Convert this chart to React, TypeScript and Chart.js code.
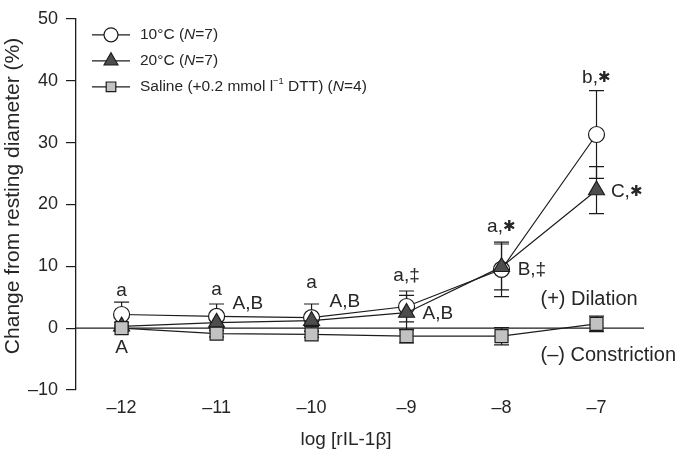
import React, { useEffect, useRef } from 'react';
import { Chart, registerables } from 'chart.js';

Chart.register(...registerables);

// ---- data ----
const logDose = [-12, -11, -10, -9, -8, -7];
const yTickValues = [-10, 0, 10, 20, 30, 40, 50];

const mean10C = [2.2, 1.9, 1.7, 3.5, 9.5, 31.3];
const sem10C = [2.0, 2.0, 2.2, 2.5, 4.4, 7.1];

const mean20C = [0.3, 0.9, 1.2, 2.5, 9.9, 22.3];
const sem20C = [0.6, 0.8, 0.9, 2.8, 3.7, 3.8];

const meanSaline = [0.0, -0.9, -1.0, -1.3, -1.3, 0.7];
const semSaline = [0.5, 0.5, 0.5, 1.1, 1.4, 1.25];

const seriesNames = ['10°C', '20°C', 'Saline'];

// statistical letters, anchored in data units
const statLabels = [
  { x: -12, y: 6.1, text: 'a' },
  { x: -12, y: -3.1, text: 'A' },
  { x: -11, y: 6.2, text: 'a' },
  { x: -10.67, y: 3.9, text: 'A,B' },
  { x: -10, y: 7.4, text: 'a' },
  { x: -9.65, y: 4.2, text: 'A,B' },
  { x: -9, y: 8.5, text: 'a,‡' },
  { x: -8.67, y: 2.35, text: 'A,B' },
  { x: -8, y: 16.4, text: 'a,✱' },
  { x: -7.68, y: 9.4, text: 'B,‡' },
  { x: -7, y: 40.5, text: 'b,✱' },
  { x: -6.68, y: 22.0, text: 'C,✱' },
];

const regionLabels = [
  { x: -7.59, y: 4.7, text: '(+) Dilation' },
  { x: -7.59, y: -4.4, text: '(–) Constriction' },
];

const xTitle = 'log [rIL-1β]';
const yTitle = 'Change from resting diameter (%)';

// ---- styling ----
const FONT = "'Liberation Sans', Arial, Helvetica, sans-serif";
const INK = '#1c1c1c';
const TEXT = '#262626';

const fmtMinus = (v: number) => (v < 0 ? '–' + Math.abs(v) : String(v));

function drawMarker(ctx: CanvasRenderingContext2D, kind: string, x: number, y: number, r: number) {
  ctx.beginPath();
  if (kind === 'circle') {
    ctx.arc(x, y, r, 0, Math.PI * 2);
    ctx.fillStyle = '#ffffff';
  } else if (kind === 'triangle') {
    ctx.moveTo(x, y - r);
    ctx.lineTo(x + r * Math.sin((2 * Math.PI) / 3), y - r * Math.cos((2 * Math.PI) / 3));
    ctx.lineTo(x + r * Math.sin((4 * Math.PI) / 3), y - r * Math.cos((4 * Math.PI) / 3));
    ctx.closePath();
    ctx.fillStyle = '#4d4d4d';
  } else {
    const s = r * Math.SQRT1_2;
    ctx.rect(x - s, y - s, 2 * s, 2 * s);
    ctx.fillStyle = '#c2c2c2';
  }
  ctx.fill();
  ctx.strokeStyle = INK;
  ctx.lineWidth = 1.2;
  ctx.stroke();
}

type Part = { t: string; italic?: boolean; sup?: boolean; small?: boolean };

function partFont(p: Part, size: number) {
  const s = p.sup ? size * 0.6 : p.small ? size * 0.78 : size;
  return `${p.italic ? 'italic ' : ''}${s}px ${FONT}`;
}

function drawRich(ctx: CanvasRenderingContext2D, x: number, y: number, parts: Part[], size: number, align: 'left' | 'center') {
  let total = 0;
  for (const p of parts) {
    ctx.font = partFont(p, size);
    total += ctx.measureText(p.t).width;
  }
  let cx = align === 'center' ? x - total / 2 : x;
  ctx.textAlign = 'left';
  ctx.textBaseline = 'middle';
  for (const p of parts) {
    ctx.font = partFont(p, size);
    ctx.fillText(p.t, cx, p.sup ? y - size * 0.32 : y);
    cx += ctx.measureText(p.t).width;
  }
}

function splitStar(text: string): Part[] {
  return text.split(/(✱)/).filter((s) => s.length).map((s) => (s === '✱' ? { t: s, small: true } : { t: s }));
}

const errorBarPlugin = {
  id: 'errorBars',
  beforeDatasetsDraw(chart: any) {
    const { ctx, chartArea, scales } = chart;
    const xs = scales.x;
    const ys = scales.y;
    ctx.save();
    // zero reference line
    ctx.strokeStyle = INK;
    ctx.lineWidth = 1.2;
    ctx.beginPath();
    const y0 = ys.getPixelForValue(0);
    ctx.moveTo(chartArea.left, y0);
    ctx.lineTo(chartArea.right, y0);
    ctx.stroke();
    // error bars
    chart.data.datasets.forEach((ds: any) => {
      ds.data.forEach((p: any, i: number) => {
        const e = ds.errors[i];
        const px = xs.getPixelForValue(p.x);
        const top = ys.getPixelForValue(p.y + e);
        const bot = ys.getPixelForValue(p.y - e);
        ctx.beginPath();
        ctx.moveTo(px, top);
        ctx.lineTo(px, bot);
        ctx.moveTo(px - 7.5, top);
        ctx.lineTo(px + 7.5, top);
        ctx.moveTo(px - 7.5, bot);
        ctx.lineTo(px + 7.5, bot);
        ctx.stroke();
      });
    });
    ctx.restore();
  },
};

const annotationPlugin = {
  id: 'annotations',
  afterDatasetsDraw(chart: any) {
    const { ctx, chartArea, scales } = chart;
    const xs = scales.x;
    const ys = scales.y;
    ctx.save();
    ctx.fillStyle = TEXT;
    ctx.textBaseline = 'middle';
    // stat letters
    statLabels.forEach((l) => {
      drawRich(ctx, xs.getPixelForValue(l.x), ys.getPixelForValue(l.y), splitStar(l.text), 19, 'center');
    });
    // dilation / constriction
    ctx.textAlign = 'left';
    ctx.font = `20px ${FONT}`;
    regionLabels.forEach((l) => {
      ctx.fillText(l.text, xs.getPixelForValue(l.x), ys.getPixelForValue(l.y));
    });
    // x axis title
    ctx.textAlign = 'center';
    ctx.font = `19px ${FONT}`;
    ctx.fillText(xTitle, (chartArea.left + chartArea.right) / 2 - 14, 440);
    // y axis title
    ctx.save();
    ctx.translate(13, 196);
    ctx.rotate(-Math.PI / 2);
    ctx.font = `21px ${FONT}`;
    ctx.textAlign = 'center';
    ctx.textBaseline = 'middle';
    ctx.fillText(yTitle, 0, 0);
    ctx.restore();

    // legend
    const lx = chartArea.left + 16;
    const rows = [
      { kind: 'circle', r: 7, parts: [{ t: seriesNames[0] + ' (' }, { t: 'N', italic: true }, { t: '=7)' }] },
      { kind: 'triangle', r: 8, parts: [{ t: seriesNames[1] + ' (' }, { t: 'N', italic: true }, { t: '=7)' }] },
      {
        kind: 'rect',
        r: 6.8,
        parts: [
          { t: seriesNames[2] + ' (+0.2 mmol l' },
          { t: '−1', sup: true },
          { t: ' DTT) (' },
          { t: 'N', italic: true },
          { t: '=4)' },
        ],
      },
    ];
    rows.forEach((row, i) => {
      const yy = chartArea.top + 16 + i * 26;
      ctx.strokeStyle = INK;
      ctx.lineWidth = 1.2;
      ctx.beginPath();
      ctx.moveTo(lx, yy);
      ctx.lineTo(lx + 38, yy);
      ctx.stroke();
      drawMarker(ctx, row.kind, lx + 19, yy, row.r);
      ctx.fillStyle = TEXT;
      drawRich(ctx, lx + 48, yy, row.parts as Part[], 15.5, 'left');
    });
    ctx.restore();
  },
};

function makeSeries(label: string, means: number[], errs: number[], style: string, radius: number, fill: string, order: number) {
  return {
    label,
    data: logDose.map((x, i) => ({ x, y: means[i] })),
    errors: errs,
    borderColor: INK,
    borderWidth: 1.2,
    pointStyle: style,
    pointRadius: radius,
    pointBackgroundColor: fill,
    pointBorderColor: INK,
    pointBorderWidth: 1.2,
    tension: 0,
    fill: false,
    order,
  };
}

export default function App() {
  const canvasRef = useRef<HTMLCanvasElement | null>(null);

  useEffect(() => {
    if (!canvasRef.current) return;
    const chart = new Chart(canvasRef.current, {
      type: 'line',
      data: {
        datasets: [
          makeSeries('10°C (N=7)', mean10C, sem10C, 'circle', 8, '#ffffff', 3),
          makeSeries('20°C (N=7)', mean20C, sem20C, 'triangle', 9.2, '#4d4d4d', 2),
          makeSeries('Saline (+0.2 mmol l−1 DTT) (N=4)', meanSaline, semSaline, 'rect', 9.2, '#c2c2c2', 1),
        ] as any,
      },
      options: {
        responsive: false,
        animation: false,
        devicePixelRatio: 1,
        layout: { padding: { left: 0, right: 39, top: 12, bottom: 0 } },
        plugins: { legend: { display: false }, tooltip: { enabled: false } },
        scales: {
          x: {
            type: 'linear',
            min: -12.48,
            max: -6.5,
            afterBuildTicks: (s: any) => {
              s.ticks = logDose.map((v) => ({ value: v }));
            },
            afterFit: (s: any) => {
              s.height = 69;
            },
            grid: { display: false, drawTicks: false },
            border: { display: false },
            ticks: {
              padding: 7,
              color: TEXT,
              font: { family: FONT, size: 18 },
              callback: (v: any) => fmtMinus(Number(v)),
            },
          },
          y: {
            type: 'linear',
            min: -10,
            max: 50,
            afterBuildTicks: (s: any) => {
              s.ticks = yTickValues.map((v) => ({ value: v }));
            },
            afterFit: (s: any) => {
              s.width = 76;
            },
            grid: { display: true, drawOnChartArea: false, drawTicks: true, tickLength: 10, color: INK, lineWidth: 1.2 },
            border: { display: true, color: INK, width: 1.3 },
            ticks: {
              padding: 8,
              color: TEXT,
              font: { family: FONT, size: 18 },
              callback: (v: any) => fmtMinus(Number(v)),
            },
            title: { display: false, text: yTitle },
          },
        },
      } as any,
      plugins: [errorBarPlugin, annotationPlugin],
    });
    return () => chart.destroy();
  }, []);

  return (
    <div style={{ position: 'absolute', left: 0, top: 0, width: 683, height: 459, background: '#fff' }}>
      <canvas ref={canvasRef} width={683} height={459} />
    </div>
  );
}
